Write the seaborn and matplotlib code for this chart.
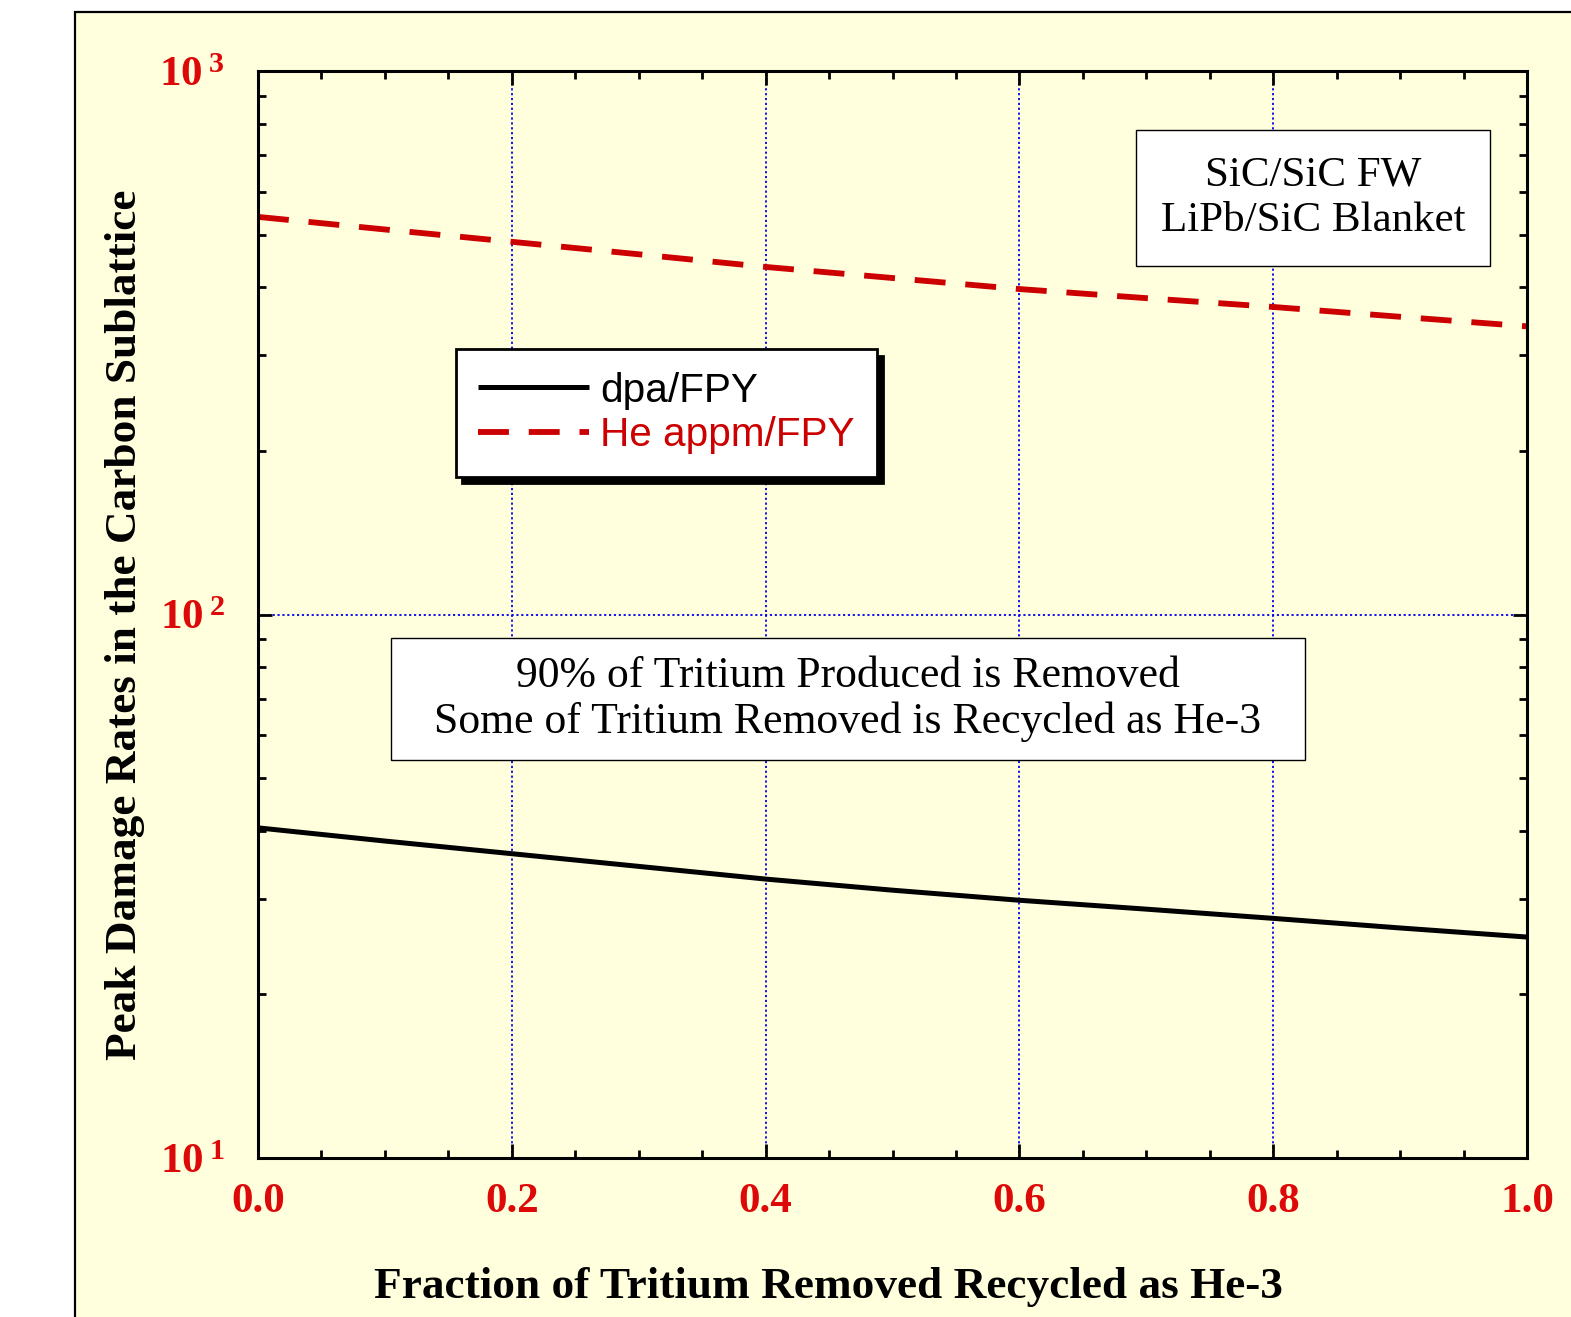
import numpy as np
import pandas as pd
import seaborn as sns
import matplotlib
matplotlib.use('Agg')
import matplotlib.pyplot as plt
from matplotlib.patches import Rectangle
from matplotlib.path import Path
from matplotlib.ticker import MultipleLocator, LogLocator, NullFormatter, FixedLocator, FixedFormatter

# ---------------- data ----------------
fraction = [0.0, 0.1, 0.2, 0.3, 0.4, 0.5, 0.6, 0.7, 0.8, 0.9, 1.0]
dpa_per_fpy = [40.5, 38.3, 36.3, 34.4, 32.6, 31.1, 29.8, 28.7, 27.6, 26.5, 25.5]
he_appm_per_fpy = [539, 511, 485, 460, 436, 416, 397, 382, 368, 353, 339]
series_names = ['dpa/FPY', 'He appm/FPY']
x_ticks = [0.0, 0.2, 0.4, 0.6, 0.8, 1.0]
x_tick_labels = ['0.0', '0.2', '0.4', '0.6', '0.8', '1.0']
y_ticks = [10, 100, 1000]
y_tick_exponents = ['1', '2', '3']
box_text_1 = 'SiC/SiC FW\nLiPb/SiC Blanket'
box_text_2 = '90% of Tritium Produced is Removed\nSome of Tritium Removed is Recycled as He-3'
x_label = 'Fraction of Tritium Removed Recycled as He-3'
y_label = 'Peak Damage Rates in the Carbon Sublattice'

df = pd.DataFrame({
    'fraction': fraction * 2,
    'value': dpa_per_fpy + he_appm_per_fpy,
    'series': [series_names[0]] * len(fraction) + [series_names[1]] * len(fraction),
})

# ---------------- style ----------------
sns.set_theme(style='ticks')
plt.rcParams['font.family'] = ['Liberation Serif', 'DejaVu Serif']
plt.rcParams['text.color'] = 'black'
plt.rcParams['mathtext.fontset'] = 'custom'
plt.rcParams['mathtext.rm'] = 'Liberation Serif'
plt.rcParams['mathtext.bf'] = 'Liberation Serif:bold'
plt.rcParams['mathtext.it'] = 'Liberation Serif:italic'

YELLOW = '#FFFFDE'
RED_TXT = '#DD0808'
RED_LINE = '#CC0000'


def rect_box(padx, pady):
    """Box style with separate horizontal / vertical padding (fractions of font size)."""
    def style(x0, y0, width, height, mutation_size):
        px, py = padx * mutation_size, pady * mutation_size
        x0, y0 = x0 - px, y0 - py
        x1, y1 = x0 + width + 2 * px, y0 + height + 2 * py
        return Path([(x0, y0), (x1, y0), (x1, y1), (x0, y1), (x0, y0)], closed=True)
    return style


W, H = 1571, 1317
fig = plt.figure(figsize=(W / 100, H / 100), dpi=100, facecolor='white')
fig.patches.append(Rectangle((75 / W, -0.1), 1.0, 1.1 - 12 / H, transform=fig.transFigure,
                             facecolor=YELLOW, edgecolor='black', lw=1.6, zorder=-5))

ax = fig.add_axes([258 / W, 1 - 1158 / H, 1269 / W, 1087 / H])
ax.set_facecolor(YELLOW)

sns.lineplot(data=df, x='fraction', y='value', hue='series', style='series',
             palette={series_names[0]: 'black', series_names[1]: RED_LINE},
             dashes={series_names[0]: '', series_names[1]: (5.3, 3.4)},
             ax=ax, lw=4.2, legend=False)
ax.lines[0].set_linewidth(3.6)
for ln, name in zip(ax.lines, series_names):
    ln.set_label(name)
    ln.set_solid_capstyle('butt')
    ln.set_dash_capstyle('butt')

ax.set_yscale('log')
ax.set_ylim(10, 1000)
ax.set_xlim(0, 1)
ax.set_xlabel('')
ax.set_ylabel('')

ax.xaxis.set_major_locator(FixedLocator(x_ticks))
ax.xaxis.set_major_formatter(FixedFormatter(x_tick_labels))
ax.xaxis.set_minor_locator(MultipleLocator(0.05))
ax.yaxis.set_major_locator(FixedLocator(y_ticks))
ax.yaxis.set_major_formatter(FixedFormatter(
    [r'$\mathbf{10}^{\;\mathbf{%s}}$' % e for e in y_tick_exponents]))
ax.yaxis.set_minor_locator(LogLocator(base=10, subs=np.arange(2, 10)))
ax.yaxis.set_minor_formatter(NullFormatter())

ax.tick_params(which='both', direction='in', top=True, right=True, width=2, color='black')
ax.tick_params(which='major', length=10)
ax.tick_params(which='minor', length=6)
ax.tick_params(axis='x', which='major', pad=18, labelsize=31, labelcolor=RED_TXT)
ax.tick_params(axis='y', which='major', pad=24, labelsize=31, labelcolor=RED_TXT)
for lab in ax.get_xticklabels():
    lab.set_fontweight('bold')

for sp in ax.spines.values():
    sp.set_linewidth(2.2)
    sp.set_color('black')

ax.grid(True, which='major', color='#0000EE', linestyle=(0, (1.2, 1.5)), lw=1.3)
ax.set_axisbelow(True)

# legend
leg = ax.legend(loc='upper left', bbox_to_anchor=(0.156, 0.744), borderaxespad=0,
                frameon=True, fancybox=False, edgecolor='black', facecolor='white',
                framealpha=1, prop={'family': 'Liberation Sans', 'size': 29.2},
                labelcolor='linecolor', handlelength=2.73, handletextpad=0.27,
                borderpad=0.55, labelspacing=0.17,
                shadow={'ox': 4.5, 'oy': -4.5, 'facecolor': 'black', 'edgecolor': 'black', 'alpha': 1})
leg.get_frame().set_linewidth(2.0)

# annotation boxes
ax.text(0.8314, 0.8832, box_text_1, transform=ax.transAxes, ha='center', va='center',
        fontsize=31, linespacing=1.26, color='black',
        bbox=dict(boxstyle=rect_box(0.57, 0.6), facecolor='white', edgecolor='black', lw=1.0))
ax.text(0.4649, 0.4223, box_text_2, transform=ax.transAxes, ha='center', va='center',
        fontsize=31.5, linespacing=1.2, color='black',
        bbox=dict(boxstyle=rect_box(1.0, 0.41), facecolor='white', edgecolor='black', lw=1.0))

fig.text(828 / W, 1 - 1287 / H, x_label, ha='center', va='center', fontsize=32.6,
         fontweight='bold', color='black')
fig.text(125 / W, 1 - 625 / H, y_label, ha='center', va='center', rotation=90,
         fontsize=32.6, fontweight='bold', color='black')

fig.savefig('out.png', dpi=100, facecolor='white')
